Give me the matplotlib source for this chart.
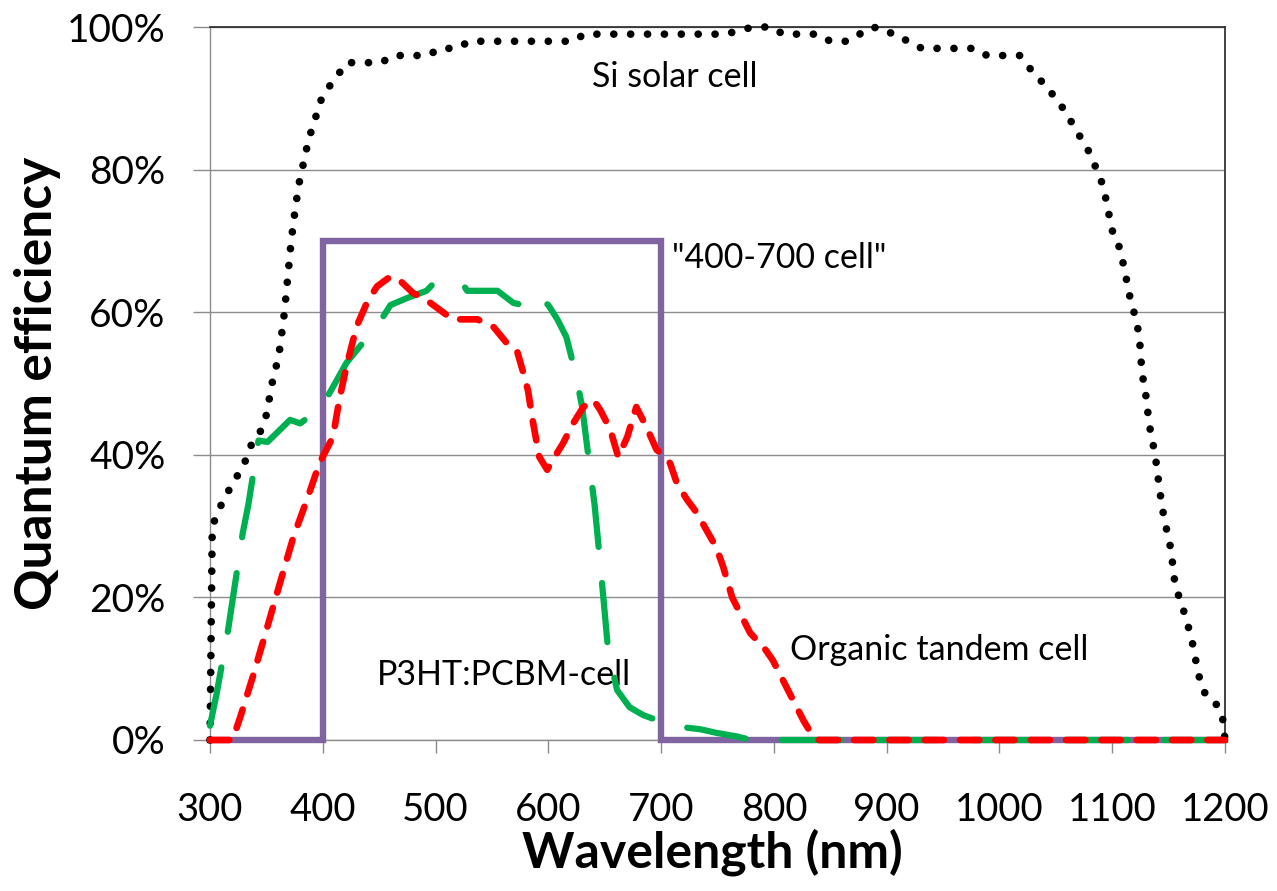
import matplotlib
matplotlib.use('Agg')
import matplotlib.pyplot as plt

plt.rcParams['font.family'] = ['Lato', 'DejaVu Sans']

# Si solar cell (wavelength nm, QE %)
si_wl = [300, 302, 310, 320, 330, 335, 344, 350, 355, 359, 362, 366, 369, 372, 376,
         380, 384, 387, 391, 395, 399, 406, 414, 421, 436, 452, 462, 477, 493, 504,
         519, 530, 560, 590, 622, 632, 700, 758, 770, 783, 798, 808, 826, 839, 850,
         866, 876, 887, 900, 909, 921, 931, 947, 962, 978, 989, 1003, 1018, 1027, 1034,
         1042, 1050, 1057, 1063, 1069, 1076, 1082, 1087, 1092, 1095, 1098, 1101, 1107,
         1110, 1113, 1116, 1120, 1123, 1125, 1126, 1128, 1131, 1132, 1135, 1138, 1140,
         1142, 1144, 1147, 1150, 1153, 1154, 1157, 1162, 1166, 1170, 1173, 1176, 1179,
         1185, 1194, 1198, 1200]
si_qe = [0, 30, 33, 36, 38.5, 41, 43, 45.6, 50, 52.6, 55, 60, 65, 70, 75,
         79, 81.6, 84, 86, 88, 90, 91.7, 93.4, 95, 95, 95, 96, 96, 96, 97,
         97, 98, 98, 98, 98, 99, 99, 99, 99.6, 100, 100, 99, 99, 99, 98,
         98, 99, 100, 99.6, 98.5, 98, 97, 97, 97, 97, 96, 96, 96, 94.2, 92.8,
         91.8, 89.8, 88.5, 86.9, 85.2, 83.6, 81.6, 79.7, 77.7, 75.4, 73, 70.8, 68.9,
         66.6, 64.3, 61.9, 59.6, 57.5, 54.8, 52.2, 49.9, 47.3, 45, 42.4, 40.1, 37.6,
         35.2, 32.9, 30.3, 28.4, 25.8, 23.5, 21.1, 18.9, 16.6, 14.6, 12, 9.7, 7.5,
         5.8, 4.8, 2.9, 0]

# P3HT:PCBM cell
p3_wl = [300, 306, 316, 320, 329, 334, 343, 351, 362, 371, 380, 399, 409, 421, 436,
         448, 460, 475, 492, 498, 524, 528, 555, 569, 586, 592, 600, 608, 616, 624,
         630, 637, 641, 646, 649, 653, 661, 672, 684, 696, 700, 719, 735, 749, 767,
         780, 1200]
p3_qe = [2, 6.6, 15.4, 19.6, 29, 33, 42, 41.8, 43.5, 44.9, 44.4, 46.7, 49.5, 52.9, 55.8,
         58, 61, 62, 63, 64, 64, 63, 63, 61.3, 60.7, 62, 61, 59, 56.5, 51.5,
         46.7, 37.9, 33, 24.8, 19.6, 12.6, 7, 4.6, 3.5, 2.8, 2.5, 1.8, 1.5, 1, 0.5,
         0, 0]

# organic tandem cell
tan_wl = [300, 320, 327, 338, 350, 362, 374, 386, 397, 409, 415, 421, 430, 439, 448,
          460, 468, 480, 492, 504, 515, 537, 551, 563, 572, 578, 582, 586, 592, 599,
          604, 613, 622, 631, 640, 646, 655, 662, 670, 678, 687, 696, 702, 708, 714,
          723, 732, 740, 749, 755, 763, 770, 779, 791, 799, 808, 817, 826, 835, 840,
          1200]
tan_qe = [0, 0, 3.3, 8.9, 15.4, 22, 28.5, 33.7, 38.8, 42.5, 48, 52.4, 58, 61.3, 63.6,
          65, 64.5, 62.7, 61.7, 60.3, 59, 59, 58, 55.7, 54.7, 51.4, 49, 44.9, 39.7, 37.9,
          39.3, 41.6, 44.4, 46.7, 47.7, 46.3, 43.5, 39.7, 42.5, 46.7, 43.9, 40.7, 40, 38.8, 36,
          33.7, 31.8, 29.5, 27, 24.3, 20, 17.8, 15, 13, 11.2, 8.4, 5.6, 2.8, 0.4, 0,
          0]

# ideal "400-700 cell"
box_wl = [300, 400, 400, 700, 700, 1200]
box_qe = [0, 0, 70, 70, 0, 0]

fig = plt.figure(figsize=(12.77, 8.91), dpi=100)
ax = fig.add_axes([210/1277, 151/891, 1015/1277, 713/891])

ax.plot(box_wl, box_qe, color='#8064A2', lw=4.6, solid_joinstyle='miter',
        clip_on=False, zorder=3)
ax.plot(si_wl, si_qe, color='black', lw=5.5, dashes=(0.01, 2.2),
        dash_capstyle='round', clip_on=False, zorder=4)
ax.plot(p3_wl, p3_qe, color='#00B050', lw=4.5, dashes=(9.5, 5.8),
        dash_capstyle='round', clip_on=False, zorder=5)
ax.plot(tan_wl, tan_qe, color='#FF0000', lw=4.8, dashes=(2.9, 2.4),
        dash_capstyle='round', clip_on=False, zorder=6)

ax.set_xlim(300, 1200)
ax.set_ylim(0, 100)
ax.set_xticks(range(300, 1201, 100))
ax.set_yticks(range(0, 101, 20))
ax.set_yticklabels([f'{v}%' for v in range(0, 101, 20)])

ax.grid(axis='y', color='#8c8c8c', lw=1.0)
ax.set_axisbelow(True)
for s in ['left', 'bottom']:
    ax.spines[s].set_color('#8c8c8c')
    ax.spines[s].set_linewidth(1.0)
for s in ['top', 'right']:
    ax.spines[s].set_color('#333333')
    ax.spines[s].set_linewidth(1.3)

ax.tick_params(axis='x', direction='out', length=9.5, width=1.0, color='#8c8c8c',
               pad=28, labelsize=27.5)
ax.tick_params(axis='y', direction='out', length=12, width=1.0, color='#8c8c8c',
               pad=20, labelsize=28)

ax.set_xlabel('Wavelength (nm)', fontsize=36, fontweight='bold')
ax.set_ylabel('Quantum efficiency', fontsize=37, fontweight='bold')
ax.xaxis.set_label_coords(0.495, -0.124)
ax.yaxis.set_label_coords(-0.147, 0.5)

ax.text(639, 91.6, 'Si solar cell', fontsize=24.5, va='baseline')
ax.text(710, 66.2, '"400-700 cell"', fontsize=24.5, va='baseline')
ax.text(448, 7.7, 'P3HT:PCBM-cell', fontsize=24.5, va='baseline')
ax.text(814, 11.2, 'Organic tandem cell', fontsize=24.5, va='baseline')

fig.savefig('out.png', dpi=100)
